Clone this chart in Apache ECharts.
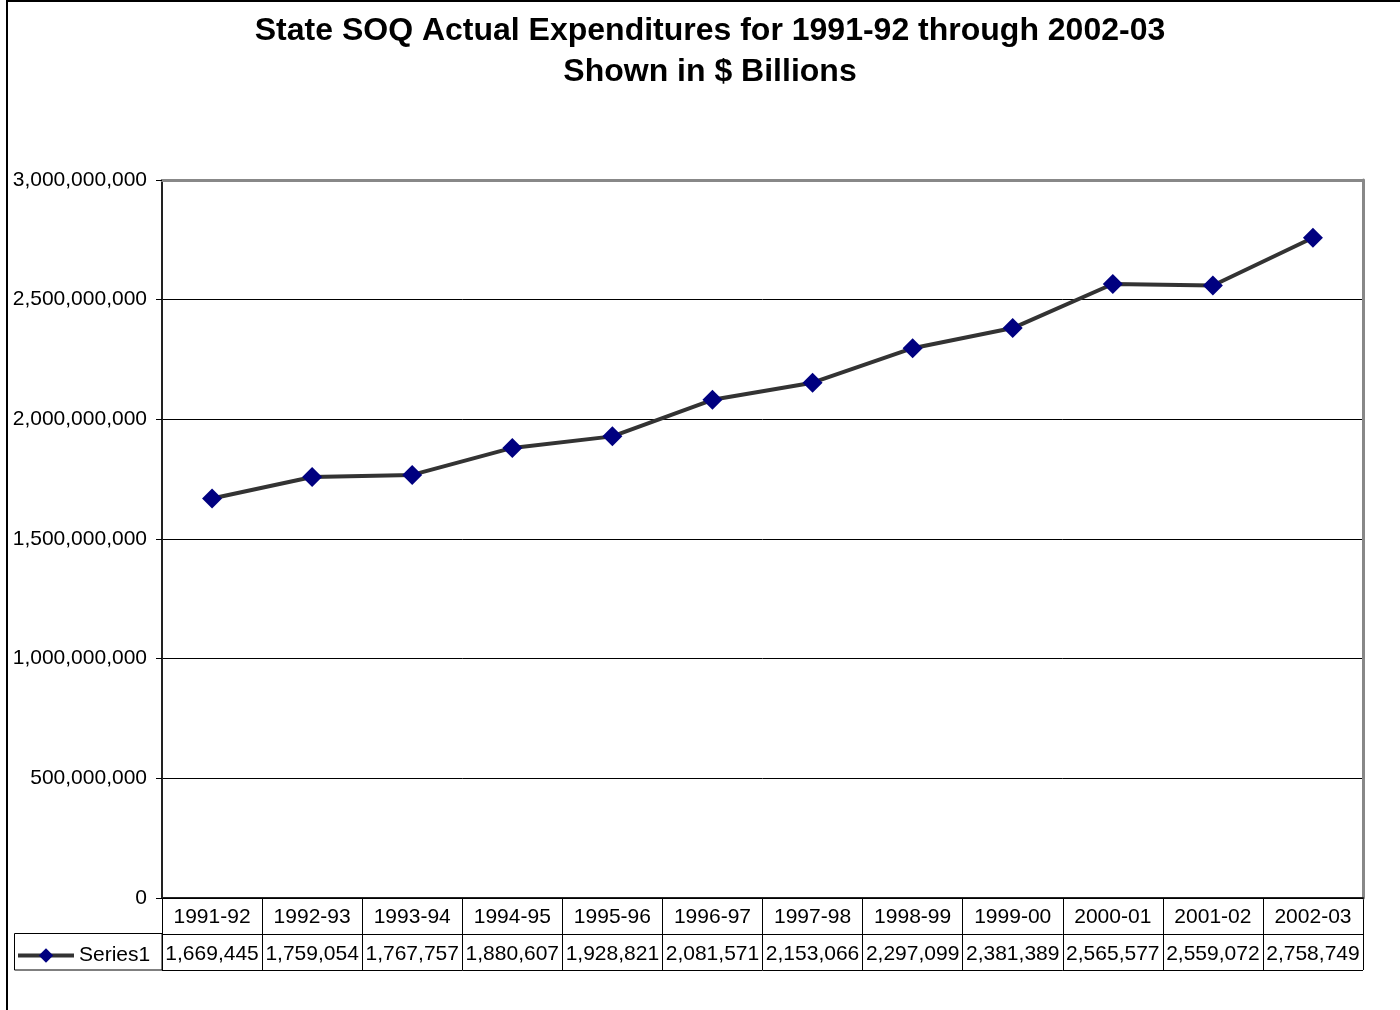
<!DOCTYPE html>
<html>
<head>
<meta charset="utf-8">
<script src="https://cdn.jsdelivr.net/npm/echarts@6/dist/echarts.min.js"></script>
<style>
html,body{margin:0;padding:0;background:#fff;}
#chart{width:1400px;height:1010px;}
</style>
</head>
<body>
<div id="chart"></div>
<script>
var categories = ['1991-92','1992-93','1993-94','1994-95','1995-96','1996-97','1997-98','1998-99','1999-00','2000-01','2001-02','2002-03'];
var series1 = [1669445000,1759054000,1767757000,1880607000,1928821000,2081571000,2153066000,2297099000,2381389000,2565577000,2559072000,2758749000];
var seriesName = 'Series1';
var yTicks = {min:0, max:3000000000, interval:500000000};
var titleLines = ['State SOQ Actual Expenditures for 1991-92 through 2002-03','Shown in $ Billions'];

function fmt(n){ return Math.round(n).toString().replace(/\B(?=(\d{3})+(?!\d))/g, ','); }

var FONT = 'Liberation Sans, Arial, sans-serif';
var chart = echarts.init(document.getElementById('chart'), null, {renderer:'canvas'});
var GL = 162, GR = 1400-1363, GT = 180, GB = 1010-898;

chart.setOption({
  backgroundColor:'#fff',
  animation:false,
  title:{
    text: titleLines.join('\n'),
    left:710, top:11, textAlign:'center',
    padding:0,
    textStyle:{fontFamily:FONT, fontSize:32, fontWeight:'bold', color:'#000', lineHeight:41}
  },
  legend:{
    data:[seriesName],
    left:16, top:945, padding:0,
    itemWidth:56, itemHeight:18, itemGap:4,
    lineStyle:{width:4, color:'#333333'},
    textStyle:{fontFamily:FONT, fontSize:21, color:'#000', padding:[2,0,0,0]}
  },
  grid:[
    {left:GL, right:GR, top:GT, bottom:GB, show:false},
    {left:GL, right:GR, top:898, bottom:1010-970, show:false}
  ],
  xAxis:[
    {gridIndex:0, type:'category', data:categories, boundaryGap:true,
     axisLine:{show:true, lineStyle:{color:'#222', width:2}},
     axisTick:{show:false},
     axisLabel:{show:true, interval:0, margin:9, fontFamily:FONT, fontSize:21, color:'#000'}},
    {gridIndex:0, type:'category', data:categories, position:'bottom', offset:37, boundaryGap:true,
     axisLine:{show:false}, axisTick:{show:false},
     axisLabel:{show:true, interval:0, hideOverlap:false, margin:9, fontFamily:FONT, fontSize:21, color:'#000',
       formatter:function(v, i){ return fmt(series1[i]/1000); }}},
    {gridIndex:0, type:'category', data:categories, position:'top', boundaryGap:true,
     axisLine:{show:true, lineStyle:{color:'#888', width:3}}, axisTick:{show:false}, axisLabel:{show:false}},
    {gridIndex:1, type:'category', data:categories, boundaryGap:true,
     axisLine:{show:true, lineStyle:{color:'#000', width:1}}, axisTick:{show:false}, axisLabel:{show:false},
     splitLine:{show:true, interval:0, lineStyle:{color:'#000', width:1}}}
  ],
  yAxis:[
    {gridIndex:0, type:'value', min:yTicks.min, max:yTicks.max, interval:yTicks.interval,
     axisLine:{show:true, lineStyle:{color:'#222', width:2}},
     axisTick:{show:true, length:6, lineStyle:{color:'#000', width:1}},
     axisLabel:{fontFamily:FONT, fontSize:21, color:'#000', margin:15, formatter:function(v){return fmt(v);}},
     splitLine:{show:true, lineStyle:{color:'#000', width:1}}},
    {gridIndex:0, type:'value', min:yTicks.min, max:yTicks.max, position:'right',
     axisLine:{show:true, lineStyle:{color:'#888', width:3}}, axisTick:{show:false}, axisLabel:{show:false}, splitLine:{show:false}},
    {gridIndex:1, type:'value', min:0, max:2, interval:1, inverse:true,
     axisLine:{show:true, lineStyle:{color:'#000', width:1}}, axisTick:{show:false}, axisLabel:{show:false},
     splitLine:{show:true, lineStyle:{color:'#000', width:1}}}
  ],
  graphic:[
    {type:'rect', shape:{x:7, y:1, width:1400, height:1020}, style:{fill:'none', stroke:'#000', lineWidth:2}, silent:true},
    {type:'rect', shape:{x:14.5, y:933.5, width:147.5, height:36.5}, style:{fill:'none', stroke:'#000', lineWidth:1}, silent:true}
  ],
  series:[
    {name:seriesName, type:'line', xAxisIndex:0, yAxisIndex:0, data:series1,
     symbol:'diamond', symbolSize:20,
     lineStyle:{color:'#333333', width:4},
     itemStyle:{color:'#000080', borderWidth:0},
     z:5}
  ]
});
</script>
</body>
</html>
